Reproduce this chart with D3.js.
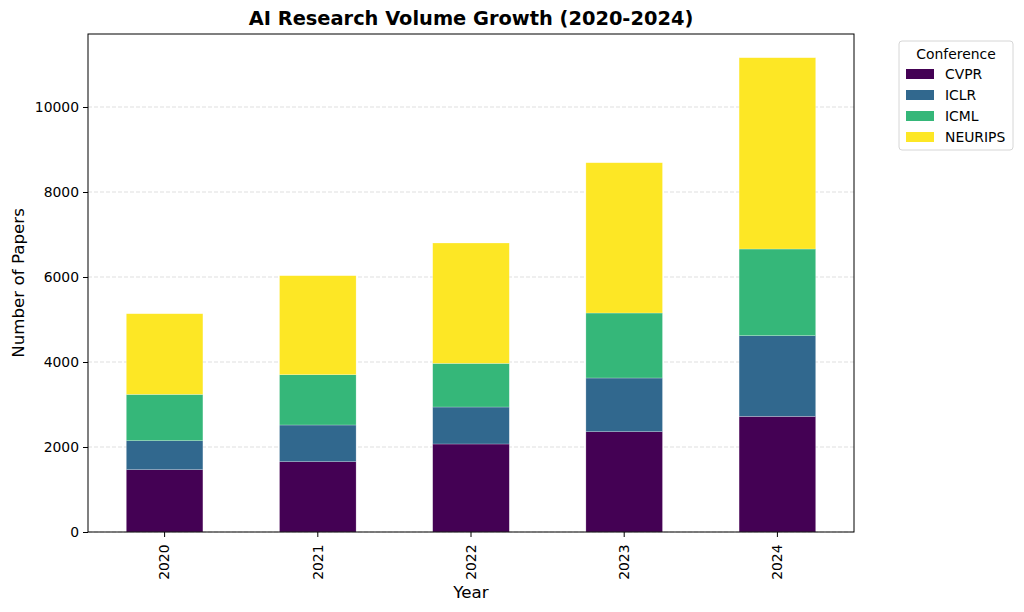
<!DOCTYPE html>
<html>
<head>
<meta charset="utf-8">
<script src="https://cdn.jsdelivr.net/npm/d3@7"></script>
<style>
  body { margin: 0; background: #fff; }
  text { font-family: "DejaVu Sans", sans-serif; }
</style>
</head>
<body>
<svg id="chart"></svg>
<script>
// Chart data
const years = ["2020", "2021", "2022", "2023", "2024"];
const conferences = ["CVPR", "ICLR", "ICML", "NEURIPS"];
const cvpr = [1466, 1654, 2071, 2360, 2720];
const iclr = [682, 864, 870, 1264, 1899];
const icml = [1090, 1183, 1027, 1529, 2040];
const neurips = [1898, 2330, 2832, 3536, 4501];
const yTicks = [0, 2000, 4000, 6000, 8000, 10000];
const colors = ["#440154", "#31688e", "#35b779", "#fde725"];

const width = 1024, height = 612;
const margin = { top: 34, right: 170, bottom: 80, left: 88 };
const tickFont = "13.9px";

const svg = d3.select("#chart")
    .attr("width", width)
    .attr("height", height);

// Build table for stacking
const table = years.map((y, i) => ({
    year: y, CVPR: cvpr[i], ICLR: iclr[i], ICML: icml[i], NEURIPS: neurips[i]
}));
const series = d3.stack().keys(conferences)(table);
const maxTotal = d3.max(series[series.length - 1], d => d[1]);

const x = d3.scaleBand()
    .domain(years)
    .range([margin.left, width - margin.right])
    .paddingInner(0.5)
    .paddingOuter(0.25);

const y = d3.scaleLinear()
    .domain([0, maxTotal * 1.05])
    .range([height - margin.bottom, margin.top]);

// Grid lines
svg.append("g")
    .selectAll("line")
    .data(yTicks)
    .enter()
    .append("line")
    .attr("x1", margin.left)
    .attr("x2", width - margin.right)
    .attr("y1", d => y(d))
    .attr("y2", d => y(d))
    .attr("stroke", "#b0b0b0")
    .attr("stroke-opacity", 0.5)
    .attr("stroke-dasharray", "4,2")
    .attr("stroke-width", 0.8);

// Stacked bars
svg.append("g")
    .selectAll("g")
    .data(series)
    .enter()
    .append("g")
    .attr("fill", (d, i) => colors[i])
    .selectAll("rect")
    .data(d => d)
    .enter()
    .append("rect")
    .attr("x", d => x(d.data.year))
    .attr("width", x.bandwidth())
    .attr("y", d => y(d[1]))
    .attr("height", d => y(d[0]) - y(d[1]))
    .attr("stroke", "#ffffff")
    .attr("stroke-opacity", 0.4)
    .attr("stroke-width", 0.6);

// Axes
const xAxis = svg.append("g")
    .attr("transform", `translate(0, ${height - margin.bottom})`)
    .call(d3.axisBottom(x).tickSize(5).tickPadding(4));
xAxis.selectAll("text")
    .attr("transform", "rotate(-90)")
    .attr("text-anchor", "end")
    .attr("dx", "-0.9em")
    .attr("dy", "0.35em")
    .attr("x", 0)
    .attr("y", 0)
    .style("font-size", tickFont)
    .attr("fill", "#000");
xAxis.select(".domain").remove();

const yAxis = svg.append("g")
    .attr("transform", `translate(${margin.left}, 0)`)
    .call(d3.axisLeft(y).tickValues(yTicks).tickFormat(d3.format("d")).tickSize(5).tickPadding(4));
yAxis.selectAll("text").style("font-size", tickFont).attr("fill", "#000");
yAxis.select(".domain").remove();
svg.selectAll(".tick line").attr("stroke", "#000").attr("stroke-width", 1);

// Frame
svg.append("rect")
    .attr("x", margin.left)
    .attr("y", margin.top)
    .attr("width", width - margin.left - margin.right)
    .attr("height", height - margin.top - margin.bottom)
    .attr("fill", "none")
    .attr("stroke", "#000")
    .attr("stroke-width", 1);

// Title and axis labels
svg.append("text")
    .attr("x", (margin.left + width - margin.right) / 2)
    .attr("y", 25)
    .attr("text-anchor", "middle")
    .style("font-size", "19.4px")
    .style("font-weight", "bold")
    .text("AI Research Volume Growth (2020-2024)");

svg.append("text")
    .attr("x", (margin.left + width - margin.right) / 2)
    .attr("y", 598)
    .attr("text-anchor", "middle")
    .style("font-size", "16.7px")
    .text("Year");

svg.append("text")
    .attr("transform", `translate(24, ${(margin.top + height - margin.bottom) / 2}) rotate(-90)`)
    .attr("text-anchor", "middle")
    .style("font-size", "16.7px")
    .text("Number of Papers");

// Legend
const legend = svg.append("g").attr("transform", "translate(899, 41)");
legend.append("rect")
    .attr("width", 114)
    .attr("height", 109)
    .attr("rx", 3)
    .attr("fill", "#fff")
    .attr("stroke", "#d6d6d6");
legend.append("text")
    .attr("x", 57)
    .attr("y", 18)
    .attr("text-anchor", "middle")
    .style("font-size", tickFont)
    .text("Conference");
conferences.forEach((c, i) => {
    const g = legend.append("g").attr("transform", `translate(7, ${28 + i * 21})`);
    g.append("rect")
        .attr("width", 28)
        .attr("height", 10)
        .attr("fill", colors[i]);
    g.append("text")
        .attr("x", 39)
        .attr("y", 10)
        .style("font-size", tickFont)
        .text(c);
});
</script>
</body>
</html>
